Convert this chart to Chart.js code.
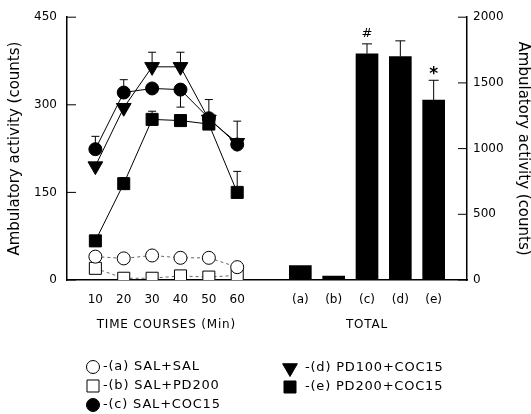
<!DOCTYPE html>
<html>
<head>
<meta charset="utf-8">
<script src="https://cdn.jsdelivr.net/npm/chart.js@4/dist/chart.umd.min.js"></script>
<style>
  html, body { margin: 0; padding: 0; background: #fff; }
</style>
</head>
<body>
<canvas id="myChart" width="531" height="414"></canvas>
<script>
// time courses (counts per 10 min bin)
var minutes = [10, 20, 30, 40, 50, 60];
var salSal = [40, 37, 42, 38, 38, 22];
var salPd200 = [20, 3, 3, 7, 5, 8];
var salCoc15 = [224, 321, 328, 326, 277, 232];
var pd100Coc15 = [195, 295, 365, 365, 275, 235];
var pd200Coc15 = [67, 165, 275, 273, 267, 150];
// SEM, negative means the bar is drawn downward
var salCoc15Err = [22, 22, 0, -30, 32, 40];
var pd100Coc15Err = [0, 0, 25, 25, 0, 0];
var pd200Coc15Err = [0, 10, 14, 0, 0, 36];

// totals over 60 min
var groups = ["(a)", "(b)", "(c)", "(d)", "(e)"];
var totals = [110, 30, 1722, 1700, 1370];
var totalsErr = [0, 0, 75, 120, 150];
var totalsMark = ["", "", "#", "", "*"];

var leftTicks = [0, 150, 300, 450];
var rightTicks = [0, 500, 1000, 1500, 2000];

var FONT = "'DejaVu Sans', sans-serif";

// category slots for the bar part (empty slots sit under the time courses)
var slots = ["", "", "", "", "", "", ""].concat(groups, [""]);
var slotTotals = slots.map(function (s) {
  var i = groups.indexOf(s);
  return i < 0 ? null : totals[i];
});

function pts(arr) {
  return minutes.map(function (m, i) { return { x: m, y: arr[i] }; });
}

function lineSet(label, data, err, style, radius, filled, dashed, rot) {
  return {
    type: "line",
    label: label,
    data: pts(data),
    err: err,
    xAxisID: "x",
    yAxisID: "y",
    borderColor: dashed ? "#666" : "#000",
    borderWidth: 1,
    borderDash: dashed ? [3, 3] : [],
    tension: 0,
    pointStyle: style,
    pointRadius: radius,
    pointRotation: rot || 0,
    pointBackgroundColor: filled ? "#000" : "#fff",
    pointBorderColor: "#000",
    pointBorderWidth: 1,
  };
}

var datasets = [
  {
    type: "bar",
    label: "TOTAL",
    data: slotTotals,
    xAxisID: "xb",
    yAxisID: "y2",
    backgroundColor: "#000",
    barThickness: 22,
    grouped: false,
  },
  lineSet("-(c) SAL+COC15", salCoc15, salCoc15Err, "circle", 6.5, true, false),
  lineSet("-(d) PD100+COC15", pd100Coc15, pd100Coc15Err, "triangle", 8.5, true, false, 180),
  lineSet("-(e) PD200+COC15", pd200Coc15, pd200Coc15Err, "rect", 8.5, true, false),
  lineSet("-(a) SAL+SAL", salSal, null, "circle", 6.5, false, true),
  lineSet("-(b) SAL+PD200", salPd200, null, "rect", 8.5, false, true),
];

// error bars, group labels, inward ticks, axis captions, legend
var extras = {
  id: "extras",
  beforeDatasetsDraw: function (chart) {
    var ctx = chart.ctx;
    ctx.save();
    ctx.strokeStyle = "#000";
    ctx.lineWidth = 1;
    chart.data.datasets.forEach(function (ds) {
      if (!ds.err) return;
      ds.data.forEach(function (p, i) {
        var e = ds.err[i];
        if (!e) return;
        var x = chart.scales.x.getPixelForValue(p.x);
        var y0 = chart.scales.y.getPixelForValue(p.y);
        var y1 = chart.scales.y.getPixelForValue(p.y + e);
        ctx.beginPath();
        ctx.moveTo(x, y0);
        ctx.lineTo(x, y1);
        ctx.moveTo(x - 4, y1);
        ctx.lineTo(x + 4, y1);
        ctx.stroke();
      });
    });
    ctx.restore();
  },
  afterDraw: function (chart) {
    var ctx = chart.ctx;
    var a = chart.chartArea;
    var xs = chart.scales.x, xb = chart.scales.xb, y = chart.scales.y, y2 = chart.scales.y2;
    ctx.save();
    ctx.strokeStyle = "#000";
    ctx.fillStyle = "#000";
    ctx.lineWidth = 1;

    // bar error bars and marks
    ctx.textAlign = "center";
    ctx.textBaseline = "middle";
    groups.forEach(function (g, i) {
      var x = xb.getPixelForValue(slots.indexOf(g));
      var top = y2.getPixelForValue(totals[i]);
      var et = y2.getPixelForValue(totals[i] + totalsErr[i]);
      if (totalsErr[i]) {
        ctx.beginPath();
        ctx.moveTo(x, top);
        ctx.lineTo(x, et);
        ctx.moveTo(x - 5, et);
        ctx.lineTo(x + 5, et);
        ctx.stroke();
      }
      if (totalsMark[i] === "*") {
        ctx.font = "bold 17px " + FONT;
        ctx.fillText(totalsMark[i], x, et - 6);
      } else if (totalsMark[i]) {
        ctx.font = "13px " + FONT;
        ctx.fillText(totalsMark[i], x, et - 10);
      }
    });

    // group labels under bars
    ctx.font = "12px " + FONT;
    groups.forEach(function (g) {
      ctx.fillText(g, xb.getPixelForValue(slots.indexOf(g)), a.bottom + 20);
    });

    // inward ticks
    ctx.beginPath();
    leftTicks.forEach(function (v) {
      var p = y.getPixelForValue(v);
      ctx.moveTo(a.left, p);
      ctx.lineTo(a.left + 9, p);
    });
    rightTicks.forEach(function (v) {
      var p = y2.getPixelForValue(v);
      ctx.moveTo(a.right - 9, p);
      ctx.lineTo(a.right, p);
    });
    ctx.stroke();

    // x captions
    ctx.font = "12px " + FONT;
    ctx.letterSpacing = "0.8px";
    var mid = (xs.getPixelForValue(minutes[0]) + xs.getPixelForValue(minutes[minutes.length - 1])) / 2;
    ctx.fillText("TIME COURSES (Min)", mid, a.bottom + 45);
    ctx.fillText("TOTAL", xb.getPixelForValue(slots.indexOf("(c)")), a.bottom + 45);

    // legend in two columns
    var cols = [
      { mx: 93, tx: 103, y: 367, items: [4, 5, 1] },
      { mx: 290, tx: 305, y: 368, items: [2, 3] },
    ];
    ctx.font = "13px " + FONT;
    ctx.textAlign = "left";
    cols.forEach(function (c) {
      c.items.forEach(function (di, r) {
        var ds = chart.data.datasets[di];
        var yy = c.y + r * 19;
        ctx.fillStyle = ds.pointBackgroundColor;
        Chart.helpers.drawPoint(ctx, {
          pointStyle: ds.pointStyle,
          rotation: ds.pointRotation,
          radius: ds.pointRadius,
          borderWidth: 1,
        }, c.mx, yy);
        ctx.fillStyle = "#000";
        ctx.fillText(ds.label, c.tx, yy);
      });
    });
    ctx.restore();
  },
};

var ctx = document.getElementById("myChart").getContext("2d");
var myChart = new Chart(ctx, {
  type: "line",
  data: { labels: slots, datasets: datasets },
  options: {
    responsive: false,
    animation: false,
    layout: { padding: { left: 0, right: 0, top: 15, bottom: 104 } },
    plugins: { legend: { display: false }, tooltip: { enabled: false } },
    scales: {
      x: {
        type: "linear",
        position: "bottom",
        min: 0,
        max: 141,
        offset: false,
        afterBuildTicks: function (s) {
          s.ticks = minutes.map(function (v) { return { value: v }; });
        },
        afterFit: function (s) { s.height = 30; },
        grid: { display: true, drawOnChartArea: false, drawTicks: false },
        border: { display: true, color: "#000", width: 1.5 },
        ticks: { color: "#000", padding: 13, maxRotation: 0, font: { family: FONT, size: 12 } },
      },
      xb: {
        type: "category",
        display: false,
        offset: false,
        grid: { offset: false },
      },
      y: {
        position: "left",
        min: 0,
        max: 450,
        afterBuildTicks: function (s) {
          s.ticks = leftTicks.map(function (v) { return { value: v }; });
        },
        afterFit: function (s) { s.width = 67; },
        grid: { drawOnChartArea: false, drawTicks: false },
        border: { display: true, color: "#000", width: 1.5 },
        ticks: { color: "#000", padding: 10, font: { family: FONT, size: 12 } },
        title: {
          display: true,
          text: "Ambulatory activity (counts)",
          color: "#000",
          padding: { top: 6, bottom: 0 },
          font: { family: FONT, size: 15 },
        },
      },
      y2: {
        position: "right",
        min: 0,
        max: 2000,
        afterBuildTicks: function (s) {
          s.ticks = rightTicks.map(function (v) { return { value: v }; });
        },
        afterFit: function (s) { s.width = 64; },
        grid: { drawOnChartArea: false, drawTicks: false },
        border: { display: true, color: "#000", width: 1.5 },
        ticks: {
          color: "#000",
          padding: 6,
          font: { family: FONT, size: 12 },
          callback: function (v) { return String(v); },
        },
        title: {
          display: true,
          text: "Ambulatory activity (counts)",
          color: "#000",
          padding: { top: -1, bottom: 0 },
          font: { family: FONT, size: 15 },
        },
      },
    },
  },
  plugins: [extras],
});
</script>
</body>
</html>
